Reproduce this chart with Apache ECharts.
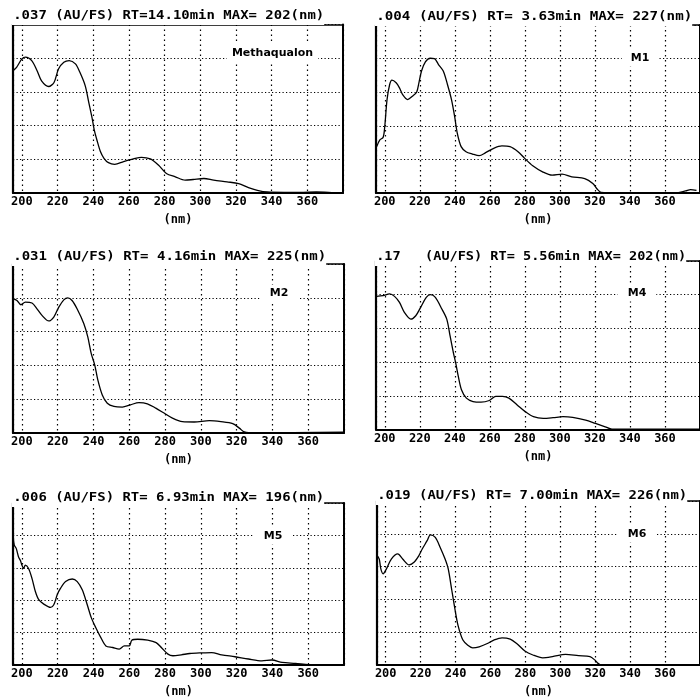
<!DOCTYPE html>
<html><head><meta charset="utf-8">
<script src="https://cdn.jsdelivr.net/npm/echarts@6/dist/echarts.min.js"></script>
<style>html,body{margin:0;padding:0;background:#fff}#c{width:700px;height:699px}</style>
</head><body><div id="c"></div>
<script>
// ---- tick labels ----
const xTickLabels = ['200','220','240','260','280','300','320','340','360'];
const xMin = 195, xMax = 380;

// ---- panel texts ----
const titles = [
  '.037 (AU/FS) RT=14.10min MAX= 202(nm)',
  '.004 (AU/FS) RT= 3.63min MAX= 227(nm)',
  '.031 (AU/FS) RT= 4.16min MAX= 225(nm)',
  '.17   (AU/FS) RT= 5.56min MAX= 202(nm)',
  '.006 (AU/FS) RT= 6.93min MAX= 196(nm)',
  '.019 (AU/FS) RT= 7.00min MAX= 226(nm)'
];
const compounds = ['Methaqualon','M1','M2','M4','M5','M6'];

// ---- spectra (wavelength nm / relative absorbance) ----
const methaqualonNm = [195,197,200,202,205.5,208.5,211,215,218,220.5,223.5,226.5,230,232.5,235.5,237.5,239.5,240.5,242,244,246,248.5,252,257,262.5,267,272,276.5,281,286,291.5,296,302,307.5,315,321.5,327,332,337.5,347,356,365,375,380];
const methaqualonAbs = [0.726,0.746,0.796,0.806,0.786,0.726,0.666,0.632,0.656,0.736,0.776,0.786,0.766,0.716,0.636,0.536,0.436,0.376,0.316,0.246,0.206,0.18,0.17,0.186,0.202,0.212,0.202,0.166,0.116,0.096,0.076,0.08,0.086,0.076,0.066,0.056,0.032,0.016,0.006,0.004,0.004,0.006,0.002,0];

const m1Nm = [195.4,197.2,199.1,200,201.3,202.8,204.1,206.5,208.4,210.2,213,215.8,218.2,219.5,221,223.2,226,228.4,230.6,233.4,235.8,238.1,239.9,241.4,243.6,246.4,250.1,253.9,257.6,262.2,266.9,271.5,276.1,279.9,284.5,290.1,295.6,301.2,306.8,314.2,318.8,321.6,323.5,329,347.6,366,371.8,374.6,378];
const m1Abs = [0.276,0.316,0.332,0.396,0.556,0.646,0.672,0.656,0.626,0.586,0.556,0.576,0.6,0.656,0.726,0.78,0.802,0.8,0.766,0.726,0.646,0.556,0.456,0.356,0.276,0.246,0.232,0.222,0.24,0.266,0.28,0.276,0.246,0.206,0.162,0.126,0.106,0.112,0.096,0.086,0.056,0.02,0.004,0.002,0,0,0.012,0.02,0.015];

const m2Nm = [195,197.2,199.4,201.9,205.6,208.4,211.2,215,217.8,220.6,223.4,225.6,228,230.8,234.6,236.8,238.7,240.7,242.4,244.9,247.7,251.4,256.1,260.7,265.4,270.1,274.8,279.4,284.1,289.7,296.3,304.7,311.2,317.8,321.5,324.3,330,380];
const m2Abs = [0.795,0.784,0.759,0.775,0.769,0.735,0.696,0.663,0.686,0.745,0.788,0.8,0.784,0.735,0.647,0.569,0.471,0.402,0.314,0.225,0.176,0.157,0.153,0.167,0.18,0.173,0.147,0.118,0.088,0.067,0.065,0.073,0.067,0.055,0.029,0.006,0,0.005];

const m4Nm = [195.3,199,202.8,205.6,208.4,211.2,214.9,217.7,220.5,223.7,226.1,228.9,232.6,235.4,237.3,239.2,240.5,242,243.8,246.6,250.4,255,259.7,263.4,267.2,270.9,275.6,280.2,284.9,290.5,296.1,301.7,307.3,314.7,320.3,325.9,329.7,380];
const m4Abs = [0.79,0.794,0.805,0.79,0.754,0.695,0.655,0.675,0.725,0.784,0.8,0.784,0.715,0.655,0.555,0.455,0.395,0.315,0.236,0.186,0.166,0.162,0.172,0.196,0.196,0.186,0.146,0.106,0.076,0.066,0.07,0.076,0.072,0.056,0.036,0.016,0.002,0.002];

const m5Nm = [195,195.7,196.8,198.1,199.1,200,200.9,201.9,203.7,205.6,207.5,209.4,212.2,216,217.8,219.7,221.6,224.4,228.1,230.9,233.7,236.5,238.8,241.3,244.1,246.9,250.7,254.4,257.2,260,261.4,264.7,270.3,275,277.9,281.6,284.4,289.1,293.8,300.4,306,311.6,319.1,326.6,334.1,339.7,345.4,352.9,360.4,370,380];
const m5Abs = [0.81,0.74,0.72,0.667,0.646,0.616,0.596,0.616,0.596,0.535,0.454,0.403,0.376,0.356,0.372,0.433,0.474,0.515,0.531,0.515,0.464,0.372,0.291,0.23,0.169,0.118,0.108,0.098,0.118,0.118,0.153,0.159,0.153,0.138,0.108,0.067,0.057,0.063,0.071,0.075,0.077,0.063,0.051,0.037,0.026,0.031,0.016,0.01,0.002,0,0];

const m6Nm = [195.1,196.3,197.2,198.5,200.4,203.2,206.9,209.7,213.4,216.2,219,220.9,223.7,225.6,228.4,231.2,234,235.8,237.7,239.6,241.4,244.2,247,249.8,253.5,258.2,261.9,266.6,271.3,275,279.7,284.3,289.9,295.5,303,310.4,317,319.8,321.6,323.5,380];
const m6Abs = [0.667,0.646,0.586,0.556,0.586,0.646,0.677,0.646,0.61,0.626,0.667,0.707,0.758,0.794,0.778,0.717,0.646,0.586,0.465,0.343,0.242,0.152,0.121,0.105,0.111,0.131,0.152,0.166,0.158,0.131,0.085,0.061,0.044,0.051,0.065,0.057,0.051,0.03,0.01,0,0];

const spectraNm = [methaqualonNm, m1Nm, m2Nm, m4Nm, m5Nm, m6Nm];
const spectraAbs = [methaqualonAbs, m1Abs, m2Abs, m4Abs, m5Abs, m6Abs];

// ---- layout (pixels) ----
const layout = [
  {left: 13,  top: 24.5, width: 330, height: 168.5, titleY: 16,  titleW: 311, labX: 272.5, labY: 53,  pad:[4,5,6,5]},
  {left: 376, top: 25,   width: 331, height: 168,   titleY: 17,  titleW: 316, labX: 640,   labY: 58,  pad:[3,9,3,9]},
  {left: 13,  top: 264,  width: 331, height: 169,   titleY: 257, titleW: 313, labX: 279,   labY: 293, pad:[3,10,3,10]},
  {left: 376, top: 261,  width: 331, height: 168.5, titleY: 257, titleW: 310, labX: 637,   labY: 293, pad:[3,10,3,10]},
  {left: 13,  top: 503,  width: 331, height: 164,   titleY: 498, titleW: 311, labX: 273,   labY: 536, pad:[3,10,3,10]},
  {left: 377, top: 501,  width: 331, height: 165,   titleY: 496, titleW: 310, labX: 637,   labY: 534, pad:[3,10,3,10]}
];

const MONO = '"DejaVu Sans Mono", "Liberation Mono", monospace';
const grids = [], xAxes = [], yAxes = [], series = [], graphics = [];

layout.forEach((L, i) => {
  grids.push({left: L.left, top: L.top, width: L.width, height: L.height, containLabel: false});
  xAxes.push({
    type: 'value', gridIndex: i, position: 'bottom', min: xMin, max: xMax, splitNumber: 9,
    name: '(nm)', nameLocation: 'middle', nameGap: 21,
    nameTextStyle: {fontFamily: MONO, fontWeight: 'bold', fontSize: 12, color: '#000'},
    axisLine: {show: true, lineStyle: {color: '#000', width: 2}},
    axisTick: {show: false},
    axisLabel: {
      show: true, margin: 3, showMinLabel: false, showMaxLabel: false,
      fontFamily: MONO, fontWeight: 'bold', fontSize: 12, color: '#000',
      formatter: v => { const s = String(Math.round(v)); return xTickLabels.includes(s) ? s : ''; }
    },
    splitLine: {show: true, lineStyle: {color: '#000', width: 1.2, type: [1.5, 3.5]}}
  });
  xAxes.push({
    type: 'value', gridIndex: i, position: 'top', min: xMin, max: xMax,
    axisLine: {show: true, onZero: false, lineStyle: {color: '#000', width: 1.5}},
    axisTick: {show: false}, axisLabel: {show: false}, splitLine: {show: false}
  });
  yAxes.push({
    type: 'value', gridIndex: i, position: 'left', min: 0, max: 1, interval: 0.2,
    axisLine: {show: true, lineStyle: {color: '#000', width: 2.2}},
    axisTick: {show: false}, axisLabel: {show: false},
    splitLine: {show: true, lineStyle: {color: '#000', width: 1.1, type: [1.2, 2.3]}}
  });
  yAxes.push({
    type: 'value', gridIndex: i, position: 'right', min: 0, max: 1,
    axisLine: {show: true, onZero: false, lineStyle: {color: '#000', width: 2}},
    axisTick: {show: false}, axisLabel: {show: false}, splitLine: {show: false}
  });
  series.push({
    type: 'line', xAxisIndex: 2 * i, yAxisIndex: 2 * i,
    data: spectraNm[i].map((x, k) => [x, spectraAbs[i][k]]),
    showSymbol: false, smooth: 0.3, clip: true,
    lineStyle: {color: '#000', width: 1.3}
  });
  const t = titles[i];
  graphics.push({
    type: 'text', x: L.left - 1, y: L.titleY, z: 100,
    scaleX: L.titleW / (t.length * 7.224),
    style: {
      text: t, font: 'bold 12px ' + MONO, fill: '#000',
      align: 'left', verticalAlign: 'middle', textAlign: 'left', textVerticalAlign: 'middle',
      backgroundColor: '#fff', padding: [2, 0, 4, 1]
    }
  });
  graphics.push({
    type: 'text', x: L.labX, y: L.labY, z: 100,
    style: {
      text: compounds[i], font: 'bold 11px "DejaVu Sans", sans-serif', fill: '#000',
      align: 'center', verticalAlign: 'middle', textAlign: 'center', textVerticalAlign: 'middle',
      backgroundColor: '#fff', padding: L.pad
    }
  });
});

const chart = echarts.init(document.getElementById('c'), null, {renderer: 'canvas'});
chart.setOption({
  animation: false,
  backgroundColor: '#fff',
  grid: grids, xAxis: xAxes, yAxis: yAxes, series: series,
  graphic: {elements: graphics}
});
</script></body></html>
